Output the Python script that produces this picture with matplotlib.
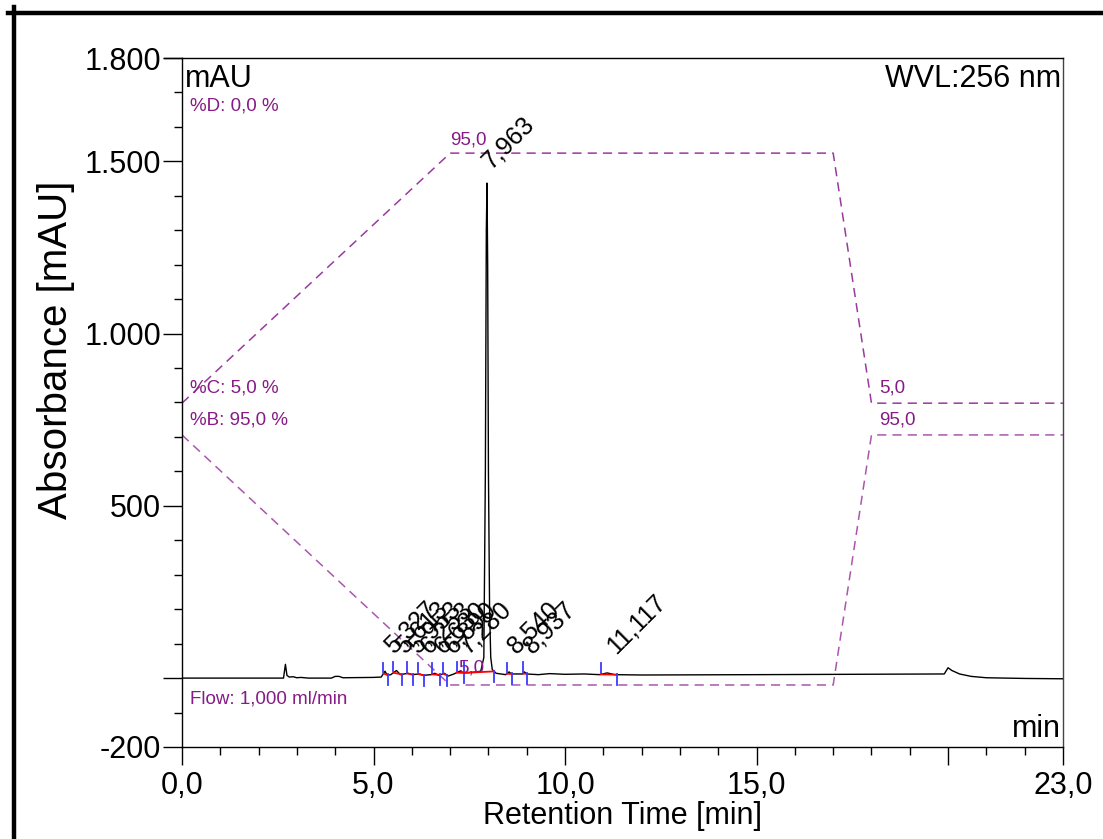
import numpy as np
import matplotlib
matplotlib.use("Agg")
import matplotlib.pyplot as plt
from matplotlib.lines import Line2D
from matplotlib.ticker import FixedLocator, MultipleLocator

plt.rcParams['font.family'] = ['Liberation Sans', 'DejaVu Sans']

# ---- chromatogram trace (retention time [min], absorbance [mAU]) ----
trace_t = [0.0, 2.65, 2.70, 2.74, 2.80, 2.90, 3.00, 3.10, 3.30, 3.90, 4.00, 4.10, 4.20,
           5.00, 5.20, 5.30, 5.36, 5.45, 5.60, 5.70, 5.90, 6.00, 6.20, 6.30, 6.50, 6.60,
           6.70, 6.85, 6.95, 7.10, 7.25, 7.35, 7.60, 7.80, 7.88, 7.92, 7.945, 7.963, 7.98,
           8.00, 8.03, 8.06, 8.10, 8.20, 8.45, 8.54, 8.60, 8.90, 8.94, 9.00, 9.30, 9.60,
           10.0, 10.5, 10.9, 11.1, 11.3, 12.0, 15.0, 19.9, 20.0, 20.1, 20.3, 20.6, 21.0,
           22.0, 23.0]
trace_v = [0, 0, 40, 8, 3, 4, 1, 2, 0, 0, 5, 5, 1,
           2, 3, 20, 8, 10, 22, 10, 14, 10, 12, 8, 10, 14,
           8, 14, 6, 12, 20, 15, 17, 20, 60, 600, 1300, 1437, 1200,
           600, 200, 60, 25, 14, 10, 18, 12, 12, 18, 12, 10, 13,
           11, 12, 10, 15, 10, 9, 10, 12, 30, 22, 12, 5, 1,
           -1, -2]

# ---- integrated peaks ----
peak_rt = [5.327, 5.613, 5.953, 6.253, 6.630, 6.890, 7.280, 7.963, 8.540, 8.937, 11.117]
peak_labels = ["5,327", "5,613", "5,953", "6,253", "6,630", "6,890", "7,280",
               "7,963", "8,540", "8,937", "11,117"]
peak_start = [5.26, 5.52, 5.87, 6.17, 6.52, 6.82, 7.17, 7.37, 8.48, 8.91, 10.93]
peak_end = [5.39, 5.74, 6.04, 6.32, 6.74, 6.93, 7.37, 8.15, 8.61, 9.00, 11.35]
peak_height = [20, 22, 14, 12, 14, 14, 20, 1437, 18, 18, 15]

# ---- gradient program ----
grad_t = [0.0, 7.0, 17.0, 18.0, 23.0]
grad_c = [5.0, 95.0, 95.0, 5.0, 5.0]
grad_b = [95.0, 5.0, 5.0, 95.0, 95.0]

PURPLE_TXT = "#861a86"
PURPLE_LN = "#9a3a9e"
BLUE = "#3a3aff"


def pct_to_mau(pct, offset):
    # gradient percentages are drawn on their own scale over the signal axis
    return offset + np.asarray(pct) * 8.065


fig = plt.figure(figsize=(11.03, 8.39), dpi=100)
ax = fig.add_axes([182 / 1103, 1 - 747 / 839, (1063 - 182) / 1103, (747 - 58) / 839])

ax.set_xlim(0, 23)
ax.set_ylim(-200, 1800)

# gradient curves
c_off, b_off = 757.7, -60.3
ax.plot(grad_t, pct_to_mau(grad_c, c_off), color=PURPLE_LN, lw=1.1, dashes=(6, 4))
ax.plot(grad_t, pct_to_mau(grad_b, b_off), color=PURPLE_LN, lw=1.1, dashes=(6, 4), alpha=0.85)

# signal
ax.plot(trace_t, trace_v, color="black", lw=1.0, zorder=3)

# integration baselines and delimiters
for s, e in zip(peak_start, peak_end):
    vs = np.interp(s, trace_t, trace_v)
    ve = np.interp(e, trace_t, trace_v)
    ax.plot([s, e], [vs, ve], color="red", lw=1.3, zorder=4)
    ax.plot([s, s], [vs + 5, vs + 32], color=BLUE, lw=1.3, zorder=4)
    ax.plot([e, e], [ve - 30, ve + 2], color=BLUE, lw=1.3, zorder=4)

# peak labels
for rt, lab, h in zip(peak_rt, peak_labels, peak_height):
    if h > 100:
        x, y = rt + 0.1, h + 40
    else:
        x, y = rt + 0.2, 68
    ax.text(x, y, lab, rotation=45, rotation_mode="anchor", ha="left", va="baseline",
            fontsize=18, color="black", zorder=5)

# gradient annotations
ax.text(7.0, pct_to_mau(95, c_off) + 12, "95,0", color=PURPLE_TXT, fontsize=13.5,
        ha="left", va="bottom")
ax.text(7.2, 5, "5,0", color=PURPLE_TXT, fontsize=13.5, ha="left", va="bottom")
ax.text(18.2, pct_to_mau(5, c_off) + 18, "5,0", color=PURPLE_TXT, fontsize=13.5,
        ha="left", va="bottom")
ax.text(18.2, pct_to_mau(95, b_off) + 18, "95,0", color=PURPLE_TXT, fontsize=13.5,
        ha="left", va="bottom")

xt = ax.get_yaxis_transform()  # x in axes fraction, y in data
ax.text(0.009, 1649, "%D: 0,0 %", color=PURPLE_TXT, fontsize=13.5, transform=xt, va="baseline")
ax.text(0.009, 830, "%C: 5,0 %", color=PURPLE_TXT, fontsize=13.5, transform=xt, va="baseline")
ax.text(0.009, 737, "%B: 95,0 %", color=PURPLE_TXT, fontsize=13.5, transform=xt, va="baseline")
ax.text(0.009, -75, "Flow: 1,000 ml/min", color=PURPLE_TXT, fontsize=13.5, transform=xt,
        va="baseline")

ax.text(0.003, 0.992, "mAU", transform=ax.transAxes, fontsize=22, ha="left", va="top")
ax.text(0.998, 0.992, "WVL:256 nm", transform=ax.transAxes, fontsize=22, ha="right", va="top")
ax.text(0.998, 0.004, "min", transform=ax.transAxes, fontsize=22, ha="right", va="bottom")

# axes ticks
ax.yaxis.set_major_locator(FixedLocator([-200, 0, 500, 1000, 1500, 1800]))
ax.set_yticklabels(["-200", "", "500", "1.000", "1.500", "1.800"])
ax.yaxis.set_minor_locator(MultipleLocator(100))
ax.xaxis.set_major_locator(FixedLocator([0, 5, 10, 15, 20, 23]))
ax.set_xticklabels(["0,0", "5,0", "10,0", "15,0", "", "23,0"])
ax.xaxis.set_minor_locator(MultipleLocator(1))
ax.tick_params(axis="y", which="major", length=14, width=1, labelsize=22, pad=1)
ax.tick_params(axis="y", which="minor", length=6, width=1)
ax.tick_params(axis="x", which="major", length=13, width=1, labelsize=22, pad=4)
ax.tick_params(axis="x", which="minor", length=6, width=1)

for sp in ax.spines.values():
    sp.set_linewidth(1.0)
ax.spines["right"].set_color("#444444")

ax.set_xlabel("Retention Time [min]", fontsize=22, labelpad=0)
ax.set_ylabel("Absorbance [mAU]", fontsize=29)
ax.yaxis.set_label_coords(-0.121, 0.576)

# top border extends to the left of the axes
fig.add_artist(Line2D([164 / 1103, 182 / 1103], [1 - 58 / 839, 1 - 58 / 839],
                      color="black", lw=1.0))

# outer frame
fig.add_artist(Line2D([8 / 1103, 1.0], [1 - 13 / 839, 1 - 13 / 839], color="black", lw=3.2))
fig.add_artist(Line2D([14 / 1103, 14 / 1103], [1 - 7 / 839, 0.0], color="black", lw=3.2))

fig.savefig("out.png", dpi=100)
